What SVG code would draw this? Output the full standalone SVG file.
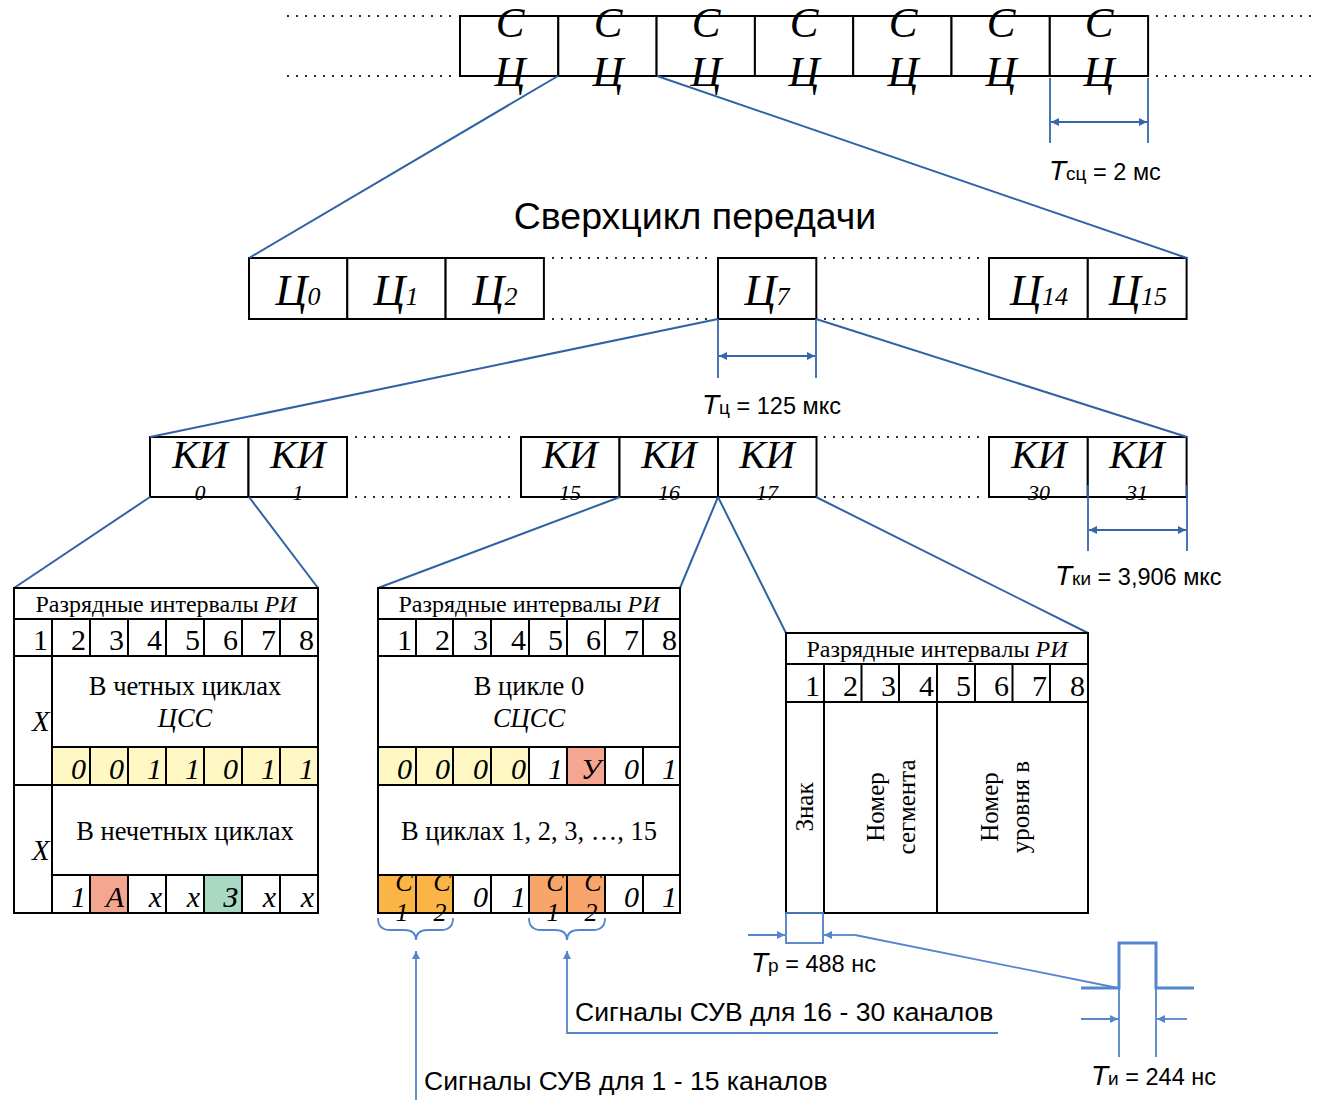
<svg xmlns="http://www.w3.org/2000/svg" width="1319" height="1100" viewBox="0 0 1319 1100">
<style>
.box{fill:#fff;stroke:#000;stroke-width:2}
.cell{stroke:#000;stroke-width:2}
.dot{stroke:#000;stroke-width:2.2;stroke-linecap:round;stroke-dasharray:0 9;fill:none}
.con{stroke:#2F62A6;stroke-width:2;fill:none}
.dim{stroke:#3566AA;stroke-width:1.8;fill:none}
.lb{stroke:#5585CC;stroke-width:1.8;fill:none}
.si{font-family:"Liberation Serif",serif;font-style:italic;fill:#000}
.sr{font-family:"Liberation Serif",serif;fill:#000}
.ss{font-family:"Liberation Sans",Arial,sans-serif;fill:#000}
.num{font-family:"Liberation Serif",serif;font-size:30px;text-anchor:end}
.dig{font-family:"Liberation Serif",serif;font-style:italic;font-size:30px;text-anchor:end}
.hdr{font-family:"Liberation Serif",serif;font-size:24px;text-anchor:middle}
.mid{text-anchor:middle}
</style>
<defs>
<marker id="ah" viewBox="0 0 10 10" refX="10" refY="5" markerWidth="8" markerHeight="8" markerUnits="userSpaceOnUse" orient="auto-start-reverse"><path d="M0,0 L10,5 L0,10 z" fill="#3566AA"/></marker>
<marker id="al" viewBox="0 0 10 10" refX="10" refY="5" markerWidth="8" markerHeight="8" markerUnits="userSpaceOnUse" orient="auto-start-reverse"><path d="M0,0 L10,5 L0,10 z" fill="#5585CC"/></marker>
</defs>

<!-- dotted continuation lines -->
<g id="dots">
<line class="dot" x1="288" y1="16" x2="455" y2="16"/>
<line class="dot" x1="288" y1="76" x2="455" y2="76"/>
<line class="dot" x1="1157" y1="16" x2="1316" y2="16"/>
<line class="dot" x1="1157" y1="76" x2="1316" y2="76"/>
<line class="dot" x1="553" y1="258" x2="712" y2="258"/>
<line class="dot" x1="553" y1="319" x2="712" y2="319"/>
<line class="dot" x1="825" y1="258" x2="984" y2="258"/>
<line class="dot" x1="825" y1="319" x2="984" y2="319"/>
<line class="dot" x1="356" y1="437" x2="515" y2="437"/>
<line class="dot" x1="356" y1="497" x2="515" y2="497"/>
<line class="dot" x1="825" y1="437" x2="984" y2="437"/>
<line class="dot" x1="825" y1="497" x2="984" y2="497"/>
</g>

<!-- top row: СЦ -->
<g id="sc-row">
<rect class="box" x="460" y="16" width="98.3" height="60"/>
<rect class="box" x="558.3" y="16" width="98.3" height="60"/>
<rect class="box" x="656.6" y="16" width="98.3" height="60"/>
<rect class="box" x="754.9" y="16" width="98.3" height="60"/>
<rect class="box" x="853.2" y="16" width="98.3" height="60"/>
<rect class="box" x="951.5" y="16" width="98.3" height="60"/>
<rect class="box" x="1049.8" y="16" width="98.3" height="60"/>
<g class="si mid" font-size="43">
<text x="510" y="37">С</text><text x="510" y="86">Ц</text>
<text x="608" y="37">С</text><text x="608" y="86">Ц</text>
<text x="706" y="37">С</text><text x="706" y="86">Ц</text>
<text x="804" y="37">С</text><text x="804" y="86">Ц</text>
<text x="903" y="37">С</text><text x="903" y="86">Ц</text>
<text x="1001" y="37">С</text><text x="1001" y="86">Ц</text>
<text x="1099" y="37">С</text><text x="1099" y="86">Ц</text>
</g>
</g>

<text id="title" class="ss mid" x="695" y="229" font-size="37.5">Сверхцикл передачи</text>

<!-- middle row: cycles -->
<g id="c-row">
<rect class="box" x="249" y="258" width="98.3" height="61"/>
<rect class="box" x="347.3" y="258" width="98.3" height="61"/>
<rect class="box" x="445.6" y="258" width="98.3" height="61"/>
<rect class="box" x="718" y="258" width="98.3" height="61"/>
<rect class="box" x="989" y="258" width="98.8" height="61"/>
<rect class="box" x="1087.8" y="258" width="98.8" height="61"/>
<g class="si mid" font-size="44">
<text x="298" y="305">Ц<tspan font-size="26">0</tspan></text>
<text x="396" y="305">Ц<tspan font-size="26">1</tspan></text>
<text x="495" y="305">Ц<tspan font-size="26">2</tspan></text>
<text x="767" y="305">Ц<tspan font-size="26">7</tspan></text>
<text x="1039" y="305">Ц<tspan font-size="26">14</tspan></text>
<text x="1138" y="305">Ц<tspan font-size="26">15</tspan></text>
</g>
</g>

<!-- KI row -->
<g id="ki-row">
<rect class="box" x="150" y="437" width="98.5" height="60"/>
<rect class="box" x="248.5" y="437" width="98.5" height="60"/>
<rect class="box" x="521" y="437" width="98.5" height="60"/>
<rect class="box" x="619.5" y="437" width="98.5" height="60"/>
<rect class="box" x="718" y="437" width="98.5" height="60"/>
<rect class="box" x="989" y="437" width="98.8" height="60"/>
<rect class="box" x="1087.8" y="437" width="98.8" height="60"/>
<g class="si mid">
<text x="200" y="468" font-size="40">КИ</text><text x="200" y="500" font-size="22">0</text>
<text x="298" y="468" font-size="40">КИ</text><text x="298" y="500" font-size="22">1</text>
<text x="570" y="468" font-size="40">КИ</text><text x="570" y="500" font-size="22">15</text>
<text x="669" y="468" font-size="40">КИ</text><text x="669" y="500" font-size="22">16</text>
<text x="767" y="468" font-size="40">КИ</text><text x="767" y="500" font-size="22">17</text>
<text x="1039" y="468" font-size="40">КИ</text><text x="1039" y="500" font-size="22">30</text>
<text x="1137" y="468" font-size="40">КИ</text><text x="1137" y="500" font-size="22">31</text>
</g>
</g>

<!-- connectors -->
<g id="connectors">
<line class="con" x1="558" y1="76" x2="249" y2="258"/>
<line class="con" x1="657" y1="76" x2="1187" y2="258"/>
<line class="con" x1="718" y1="319" x2="150" y2="437"/>
<line class="con" x1="816" y1="319" x2="1187" y2="437"/>
<line class="con" x1="150" y1="497" x2="14" y2="588"/>
<line class="con" x1="249" y1="497" x2="318" y2="588"/>
<line class="con" x1="620" y1="497" x2="378" y2="588"/>
<line class="con" x1="718" y1="497" x2="680" y2="588"/>
<line class="con" x1="718" y1="497" x2="786" y2="633"/>
<line class="con" x1="816" y1="497" x2="1088" y2="633"/>
</g>

<!-- dimensions -->
<g id="dims">
<line class="dim" x1="1050" y1="78" x2="1050" y2="143"/>
<line class="dim" x1="1148" y1="78" x2="1148" y2="143"/>
<line class="dim" x1="1051" y1="122" x2="1147" y2="122" marker-start="url(#ah)" marker-end="url(#ah)"/>
<line class="dim" x1="718" y1="319" x2="718" y2="378"/>
<line class="dim" x1="816" y1="319" x2="816" y2="378"/>
<line class="dim" x1="719" y1="356" x2="815" y2="356" marker-start="url(#ah)" marker-end="url(#ah)"/>
<line class="dim" x1="1088" y1="485" x2="1088" y2="551"/>
<line class="dim" x1="1187" y1="485" x2="1187" y2="551"/>
<line class="dim" x1="1089" y1="530" x2="1186" y2="530" marker-start="url(#ah)" marker-end="url(#ah)"/>
</g>
<g id="dim-labels" class="ss" font-size="23.5">
<text x="1049" y="180"><tspan font-style="italic" font-size="28">T</tspan><tspan font-size="19">сц</tspan> = 2 мс</text>
<text x="702" y="414"><tspan font-style="italic" font-size="28">T</tspan><tspan font-size="19">ц</tspan> = 125 мкс</text>
<text x="1055" y="585"><tspan font-style="italic" font-size="28">T</tspan><tspan font-size="19">ки</tspan> = 3,906 мкс</text>
<text x="751" y="972"><tspan font-style="italic" font-size="28">T</tspan><tspan font-size="19">р</tspan> = 488 нс</text>
<text x="1091" y="1085"><tspan font-style="italic" font-size="28">T</tspan><tspan font-size="19">и</tspan> = 244 нс</text>
</g>

<!-- left table KI0 -->
<g id="table-ki0">
<rect class="box" x="14" y="588" width="304" height="325"/>
<line class="cell" x1="14" y1="619" x2="318" y2="619"/>
<line class="cell" x1="14" y1="656" x2="318" y2="656"/>
<rect x="52" y="747" width="266" height="38" fill="#FFF8C4"/>
<rect x="90" y="875" width="38" height="38" fill="#F4A690"/>
<rect x="204" y="875" width="38" height="38" fill="#A9D9C3"/>
<line class="cell" x1="52" y1="747" x2="318" y2="747"/>
<line class="cell" x1="14" y1="785" x2="318" y2="785"/>
<line class="cell" x1="52" y1="875" x2="318" y2="875"/>
<line class="cell" x1="52" y1="619" x2="52" y2="913"/>
<g class="cell">
<line x1="90" y1="619" x2="90" y2="656"/><line x1="128" y1="619" x2="128" y2="656"/><line x1="166" y1="619" x2="166" y2="656"/><line x1="204" y1="619" x2="204" y2="656"/><line x1="242" y1="619" x2="242" y2="656"/><line x1="280" y1="619" x2="280" y2="656"/>
<line x1="90" y1="747" x2="90" y2="785"/><line x1="128" y1="747" x2="128" y2="785"/><line x1="166" y1="747" x2="166" y2="785"/><line x1="204" y1="747" x2="204" y2="785"/><line x1="242" y1="747" x2="242" y2="785"/><line x1="280" y1="747" x2="280" y2="785"/>
<line x1="90" y1="875" x2="90" y2="913"/><line x1="128" y1="875" x2="128" y2="913"/><line x1="166" y1="875" x2="166" y2="913"/><line x1="204" y1="875" x2="204" y2="913"/><line x1="242" y1="875" x2="242" y2="913"/><line x1="280" y1="875" x2="280" y2="913"/>
</g>
<rect x="14" y="588" width="304" height="325" fill="none" stroke="#000" stroke-width="2"/>
<text class="hdr" x="166" y="612">Разрядные интервалы <tspan font-style="italic">РИ</tspan></text>
<g class="num"><text x="48" y="650">1</text><text x="86" y="650">2</text><text x="124" y="650">3</text><text x="162" y="650">4</text><text x="200" y="650">5</text><text x="238" y="650">6</text><text x="276" y="650">7</text><text x="314" y="650">8</text></g>
<text class="sr mid" x="185" y="695" font-size="26.5">В четных циклах</text>
<text class="si mid" x="185" y="727" font-size="26.5">ЦСС</text>
<text class="si" x="32" y="731" font-size="29">X</text>
<g class="dig"><text x="86" y="779">0</text><text x="124" y="779">0</text><text x="162" y="779">1</text><text x="200" y="779">1</text><text x="238" y="779">0</text><text x="276" y="779">1</text><text x="314" y="779">1</text></g>
<text class="sr mid" x="185" y="840" font-size="26.5">В нечетных циклах</text>
<text class="si" x="32" y="860" font-size="29">X</text>
<g class="dig"><text x="86" y="907">1</text><text x="124" y="907">А</text><text x="162" y="907">x</text><text x="200" y="907">x</text><text x="238" y="907">З</text><text x="276" y="907">x</text><text x="314" y="907">x</text></g>
</g>

<!-- middle table KI16 -->
<g id="table-ki16">
<rect class="box" x="378" y="588" width="302" height="325"/>
<line class="cell" x1="378" y1="619" x2="680" y2="619"/>
<line class="cell" x1="378" y1="656" x2="680" y2="656"/>
<rect x="378" y="747" width="151" height="38" fill="#FFF8C4"/>
<rect x="567" y="747" width="38" height="38" fill="#F4A690"/>
<rect x="378" y="875" width="75.5" height="38" fill="#FBB446"/>
<rect x="529" y="875" width="76" height="38" fill="#F8A56C"/>
<line class="cell" x1="378" y1="747" x2="680" y2="747"/>
<line class="cell" x1="378" y1="785" x2="680" y2="785"/>
<line class="cell" x1="378" y1="875" x2="680" y2="875"/>
<g class="cell">
<line x1="416" y1="619" x2="416" y2="656"/><line x1="453" y1="619" x2="453" y2="656"/><line x1="491" y1="619" x2="491" y2="656"/><line x1="529" y1="619" x2="529" y2="656"/><line x1="567" y1="619" x2="567" y2="656"/><line x1="605" y1="619" x2="605" y2="656"/><line x1="643" y1="619" x2="643" y2="656"/>
<line x1="416" y1="747" x2="416" y2="785"/><line x1="453" y1="747" x2="453" y2="785"/><line x1="491" y1="747" x2="491" y2="785"/><line x1="529" y1="747" x2="529" y2="785"/><line x1="567" y1="747" x2="567" y2="785"/><line x1="605" y1="747" x2="605" y2="785"/><line x1="643" y1="747" x2="643" y2="785"/>
<line x1="416" y1="875" x2="416" y2="913"/><line x1="453" y1="875" x2="453" y2="913"/><line x1="491" y1="875" x2="491" y2="913"/><line x1="529" y1="875" x2="529" y2="913"/><line x1="567" y1="875" x2="567" y2="913"/><line x1="605" y1="875" x2="605" y2="913"/><line x1="643" y1="875" x2="643" y2="913"/>
</g>
<rect x="378" y="588" width="302" height="325" fill="none" stroke="#000" stroke-width="2"/>
<text class="hdr" x="529" y="612">Разрядные интервалы <tspan font-style="italic">РИ</tspan></text>
<g class="num"><text x="412" y="650">1</text><text x="450" y="650">2</text><text x="488" y="650">3</text><text x="526" y="650">4</text><text x="563" y="650">5</text><text x="601" y="650">6</text><text x="639" y="650">7</text><text x="677" y="650">8</text></g>
<text class="sr mid" x="529" y="695" font-size="26.5">В цикле 0</text>
<text class="si mid" x="529" y="727" font-size="26.5">СЦСС</text>
<g class="dig"><text x="412" y="779">0</text><text x="450" y="779">0</text><text x="488" y="779">0</text><text x="526" y="779">0</text><text x="563" y="779">1</text><text x="601" y="779">У</text><text x="639" y="779">0</text><text x="677" y="779">1</text></g>
<text class="sr mid" x="529" y="840" font-size="26.5">В циклах 1, 2, 3, …, 15</text>
<g class="si mid" font-size="26">
<text x="404" y="891">С</text><text x="402" y="921">1</text>
<text x="442" y="891">С</text><text x="440" y="921">2</text>
<text x="555" y="891">С</text><text x="553" y="921">1</text>
<text x="593" y="891">С</text><text x="591" y="921">2</text>
</g>
<g class="dig"><text x="488" y="907">0</text><text x="526" y="907">1</text><text x="639" y="907">0</text><text x="677" y="907">1</text></g>
</g>

<!-- right table KI17 -->
<g id="table-ki17">
<rect class="box" x="786" y="633" width="302" height="280"/>
<line class="cell" x1="786" y1="664" x2="1088" y2="664"/>
<line class="cell" x1="786" y1="702" x2="1088" y2="702"/>
<g class="cell">
<line x1="824" y1="664" x2="824" y2="913"/><line x1="861.5" y1="664" x2="861.5" y2="702"/><line x1="899" y1="664" x2="899" y2="702"/><line x1="937" y1="664" x2="937" y2="913"/><line x1="975" y1="664" x2="975" y2="702"/><line x1="1012.5" y1="664" x2="1012.5" y2="702"/><line x1="1050" y1="664" x2="1050" y2="702"/>
</g>
<text class="hdr" x="937" y="657">Разрядные интервалы <tspan font-style="italic">РИ</tspan></text>
<g class="num"><text x="820" y="696">1</text><text x="858" y="696">2</text><text x="896" y="696">3</text><text x="934" y="696">4</text><text x="971" y="696">5</text><text x="1009" y="696">6</text><text x="1047" y="696">7</text><text x="1085" y="696">8</text></g>
<g class="sr mid" font-size="25">
<text transform="translate(813,807) rotate(-90)">Знак</text>
<text transform="translate(884,807) rotate(-90)"><tspan x="0" y="0">Номер</tspan><tspan x="0" y="31">сегмента</tspan></text>
<text transform="translate(998,807) rotate(-90)"><tspan x="0" y="0">Номер</tspan><tspan x="0" y="31">уровня в</tspan></text>
</g>
</g>

<!-- bit timing -->
<g id="bit-timing">
<rect x="786" y="913" width="37" height="30" fill="none" stroke="#4F7FC8" stroke-width="1.8"/>
<line class="lb" x1="748" y1="935" x2="785" y2="935" marker-end="url(#al)"/>
<line class="lb" x1="856" y1="935" x2="824" y2="935" marker-end="url(#al)"/>
<line class="lb" x1="855" y1="935" x2="1118" y2="988"/>
<polyline points="1081,988 1119,988 1119,943 1156,943 1156,988 1194,988" fill="none" stroke="#5585CC" stroke-width="3"/>
<line class="lb" x1="1119" y1="988" x2="1119" y2="1057"/>
<line class="lb" x1="1156" y1="988" x2="1156" y2="1057"/>
<line class="lb" x1="1081" y1="1019" x2="1118" y2="1019" marker-end="url(#al)"/>
<line class="lb" x1="1187" y1="1019" x2="1157" y2="1019" marker-end="url(#al)"/>
</g>

<!-- СУВ signals -->
<g id="suv">
<path class="lb" d="M378,918 Q378,930 390,930 L404,930 Q416,930 416,940 Q416,930 428,930 L441,930 Q453,930 453,918"/>
<path class="lb" d="M529,918 Q529,930 541,930 L555,930 Q567,930 567,940 Q567,930 579,930 L593,930 Q605,930 605,918"/>
<line class="lb" x1="416" y1="1100" x2="416" y2="951" marker-end="url(#al)"/>
<polyline class="lb" points="998,1033 567,1033 567,951" marker-end="url(#al)"/>
<text class="ss" x="575" y="1021" font-size="26.5">Сигналы СУВ для 16 - 30 каналов</text>
<text class="ss" x="424" y="1090" font-size="26.5">Сигналы СУВ для 1 - 15 каналов</text>
</g>
</svg>
